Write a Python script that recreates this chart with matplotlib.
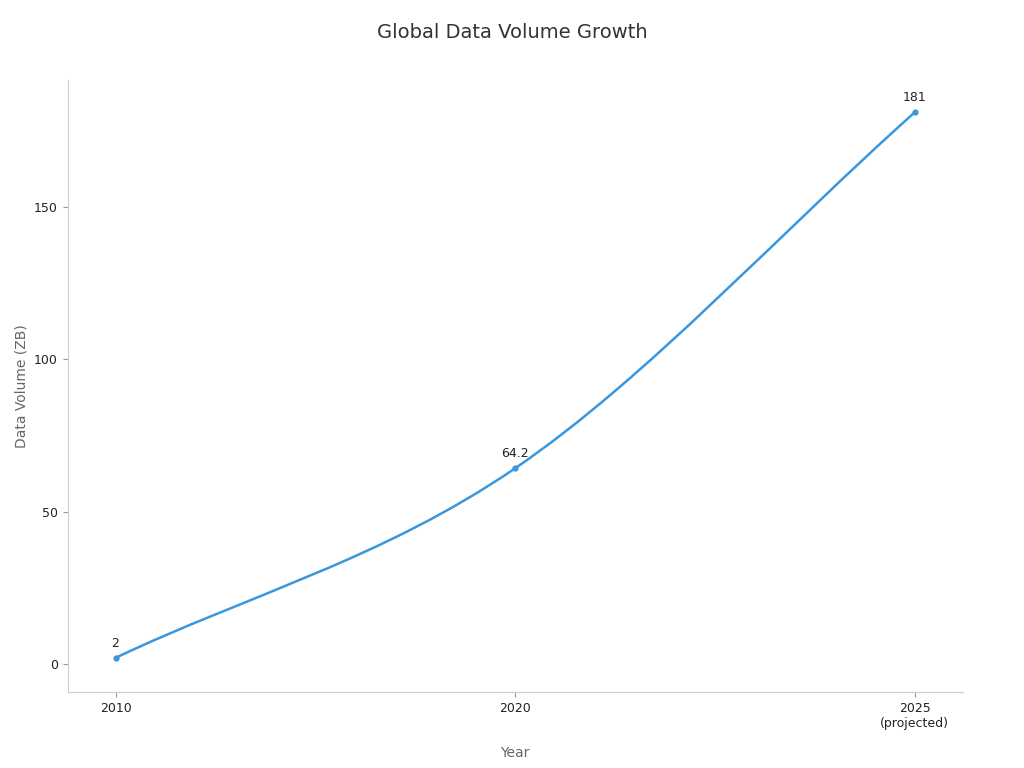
import matplotlib
matplotlib.use("Agg")
import matplotlib.pyplot as plt
from matplotlib.path import Path
from matplotlib.patches import PathPatch
import numpy as np

years = ["2010", "2020", "2025\n(projected)"]
values = [2, 64.2, 181]
labels = ["2", "64.2", "181"]

color = "#3b97dd"
fig = plt.figure(figsize=(10.24, 7.68), dpi=100)
ax = fig.add_axes([0.066, 0.099, 0.874, 0.797])
x = np.arange(len(values), dtype=float)
y = np.array(values, dtype=float)

# smooth cardinal-spline path through the points
verts = [(x[0], y[0])]
codes = [Path.MOVETO]
n = len(x)
def tan(i):
    if i == 0:
        return (x[1]-x[0], y[1]-y[0])
    if i == n-1:
        return (x[-1]-x[-2], y[-1]-y[-2])
    return ((x[i+1]-x[i-1])/2, (y[i+1]-y[i-1])/2)
for i in range(n-1):
    t0, t1 = tan(i), tan(i+1)
    verts += [(x[i]+t0[0]/3, y[i]+t0[1]/3), (x[i+1]-t1[0]/3, y[i+1]-t1[1]/3), (x[i+1], y[i+1])]
    codes += [Path.CURVE4]*3
ax.add_patch(PathPatch(Path(verts, codes), fill=False, edgecolor=color, lw=1.8))
ax.plot(x, y, 'o', color=color, ms=3.5)
for xi, yi, lb in zip(x, y, labels):
    ax.annotate(lb, (xi, yi), xytext=(0, 6), textcoords="offset points", ha="center", va="bottom", fontsize=9, color="#222222")

ax.set_xlim(-0.12, 2.12)
ax.set_ylim(-9.2, 191.7)
ax.set_xticks(x)
ax.set_xticklabels(years, fontsize=9, color="#222222")
ax.set_yticks([0, 50, 100, 150])
ax.tick_params(axis="y", labelsize=9, labelcolor="#222222", color="#999999")
ax.tick_params(axis="x", color="#999999")
for s in ["top", "right"]:
    ax.spines[s].set_visible(False)
for s in ["left", "bottom"]:
    ax.spines[s].set_color("#cccccc")
ax.set_xlabel("Year", fontsize=10, color="#666666", labelpad=12)
ax.set_ylabel("Data Volume (ZB)", fontsize=10, color="#666666")
fig.suptitle("Global Data Volume Growth", fontsize=14, color="#333333", y=0.97)
fig.savefig("out.png", dpi=100)
